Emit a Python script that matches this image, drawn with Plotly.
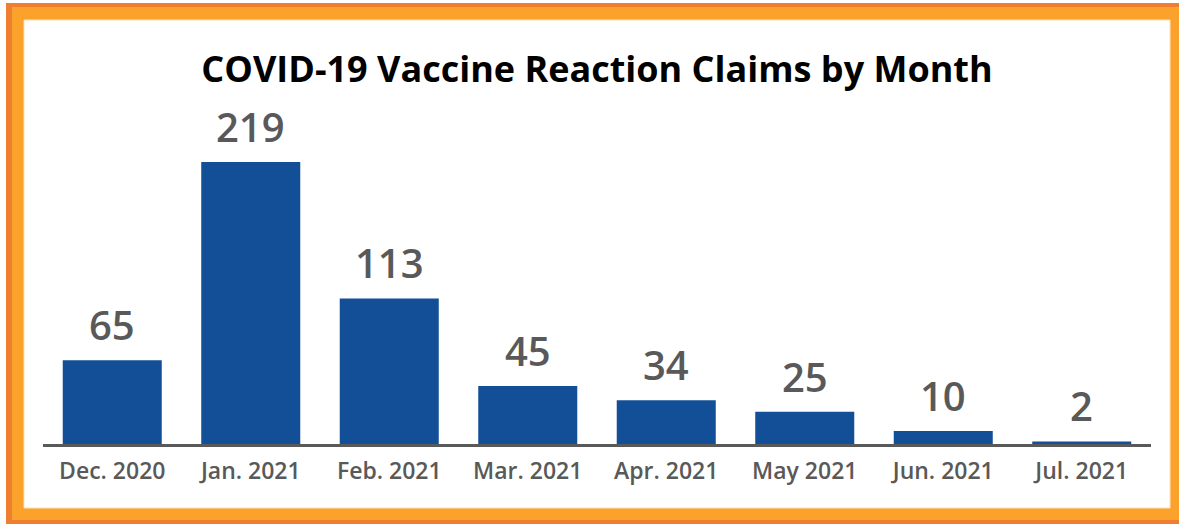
import plotly.graph_objects as go

months = ["Dec. 2020", "Jan. 2021", "Feb. 2021", "Mar. 2021",
          "Apr. 2021", "May 2021", "Jun. 2021", "Jul. 2021"]
claims = [65, 219, 113, 45, 34, 25, 10, 2]

W, H = 1179, 524
L, R, T, B = 43, 28, 100, 80
PW, PH = W - L - R, H - T - B


def px_x(x):
    return (x - L) / PW


def px_y(y):
    return (H - B - y) / PH


bar_color = "#134F97"
label_color = "#595959"
font_family = "Open Sans"

fig = go.Figure()
fig.add_trace(go.Bar(
    x=months,
    y=claims,
    marker=dict(color=bar_color, line=dict(width=0)),
    cliponaxis=False,
    width=0.715,
))

# Value labels sitting above each bar
for m, v in zip(months, claims):
    fig.add_annotation(
        x=m, y=v, text=str(v), showarrow=False,
        yanchor="bottom", yshift=6,
        font=dict(family=font_family, size=40, color=label_color, weight=600),
    )

# Orange framed card behind the chart
shapes = [
    dict(type="rect", xref="paper", yref="paper", layer="below",
         x0=px_x(6), x1=px_x(W + 2), y0=px_y(H + 2), y1=px_y(3),
         fillcolor="#EE7E30", line=dict(width=0)),
    dict(type="rect", xref="paper", yref="paper", layer="below",
         x0=px_x(12), x1=px_x(W + 2), y0=px_y(520), y1=px_y(7),
         fillcolor="#FBA22C", line=dict(width=0)),
    dict(type="rect", xref="paper", yref="paper", layer="below",
         x0=px_x(24), x1=px_x(1170), y0=px_y(508), y1=px_y(20),
         fillcolor="#FFFFFF", line=dict(color="#FDE3B8", width=1)),
]

fig.update_layout(
    width=W, height=H,
    margin=dict(l=L, r=R, t=T, b=B, pad=0),
    paper_bgcolor="#FFFFFF",
    plot_bgcolor="rgba(0,0,0,0)",
    showlegend=False,
    bargap=0.285,
    shapes=shapes,
    title=dict(
        text="<b>COVID-19 Vaccine Reaction Claims by Month</b>",
        font=dict(family=font_family, size=36, color="#000000"),
        x=597 / W, xanchor="center",
        y=1 - 69 / H, yanchor="middle", yref="container",
    ),
    xaxis=dict(
        showline=True, linecolor="#595959", linewidth=3,
        showgrid=False, ticks="", zeroline=False,
        tickfont=dict(family=font_family, size=23, color=label_color,
                      weight=600),
        ticklabelstandoff=4,
    ),
    yaxis=dict(
        visible=False, range=[0, (H - B - T) / 1.288],
        showgrid=False, zeroline=False,
    ),
)

fig.write_html("out.html")
